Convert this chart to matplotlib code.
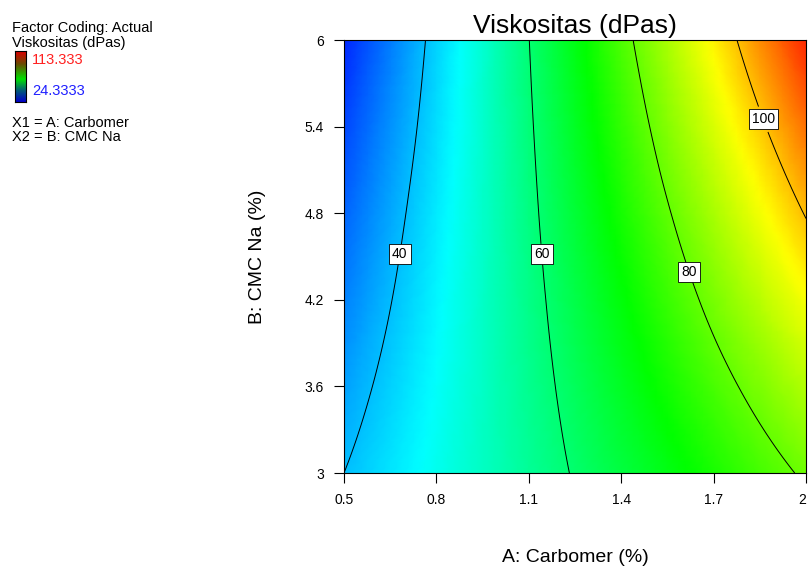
import numpy as np
import matplotlib
matplotlib.use("Agg")
import matplotlib.pyplot as plt
import matplotlib.tri as mtri
from matplotlib.colors import LinearSegmentedColormap

plt.rcParams['font.family'] = ['Liberation Sans', 'DejaVu Sans']

# factor levels (grid points) and response
carbomer = [0.5, 0.8, 1.1, 1.4, 1.7, 2.0]
cmc_na = [3.0, 3.6, 4.2, 4.8, 5.4, 6.0]
# rows = CMC Na, cols = Carbomer
viskositas = [
    [40.0, 48.2, 56.4, 64.6, 72.8, 81.0],
    [36.9, 47.0, 57.1, 67.2, 77.3, 87.4],
    [33.7, 45.8, 57.8, 69.8, 81.9, 93.9],
    [30.6, 44.6, 58.5, 72.5, 86.4, 100.4],
    [27.5, 43.3, 59.2, 75.1, 91.0, 106.9],
    [24.3, 42.1, 59.9, 77.7, 95.5, 113.3],
]
levels = [40, 60, 80, 100]
label_pos = [(0.666, 4.52), (1.14, 4.52), (1.63, 4.40), (1.873, 5.46)]
z_min, z_max = 24.3333, 113.333

cmap = LinearSegmentedColormap.from_list(
    "de", [(0.0, "#0028ff"), (0.25, "#00ffff"), (0.52, "#00ff00"),
           (0.79, "#ffff00"), (1.0, "#ff2800")])

fig = plt.figure(figsize=(8.08, 5.67), dpi=100)
ax = fig.add_axes([344 / 808, 1 - 473 / 567, 462 / 808, 433 / 567])

X, Y = np.meshgrid(carbomer, cmc_na)
Z = np.array(viskositas).ravel()
tri = mtri.Triangulation(X.ravel(), Y.ravel())
interp = mtri.CubicTriInterpolator(tri, Z, kind="min_E")
refiner = mtri.UniformTriRefiner(tri)
tri_f, z_f = refiner.refine_field(Z, interp, subdiv=4)

ax.tripcolor(tri_f, z_f, shading="gouraud", cmap=cmap, vmin=z_min, vmax=z_max)
cs = ax.tricontour(tri_f, z_f, levels=levels, colors="k", linewidths=0.7)
labels = ax.clabel(cs, manual=label_pos, fmt="%d", fontsize=10, inline=True,
                   inline_spacing=2)
for t in labels:
    t.set_rotation(0)
    t.set_bbox(dict(boxstyle="square,pad=0.22", fc="white", ec="black", lw=0.6))

ax.set_xlim(0.5, 2.0)
ax.set_ylim(3, 6)
ax.set_xticks(carbomer)
ax.set_xticklabels(["0.5", "0.8", "1.1", "1.4", "1.7", "2"])
ax.get_xticklabels()[-1].set_ha("right")
ax.set_yticks(cmc_na)
ax.set_yticklabels(["3", "3.6", "4.2", "4.8", "5.4", "6"])
ax.tick_params(direction="out", length=7.5, width=0.8, labelsize=10, pad=7)
for s in ax.spines.values():
    s.set_linewidth(0.8)

ax.set_title("Viskositas (dPas)", fontsize=19, pad=5)
ax.set_xlabel("A: Carbomer (%)", fontsize=14, va="center")
ax.xaxis.set_label_coords(0.5, -(557 - 473) / 433)
ax.set_ylabel("B: CMC Na (%)", fontsize=14, va="center")
ax.yaxis.set_label_coords(-(344 - 258) / 462, 0.5)

# legend block at top left
fs = 10.5
fig.text(12 / 808, 1 - 28 / 567, "Factor Coding: Actual", fontsize=fs, va="center")
fig.text(12 / 808, 1 - 43 / 567, "Viskositas (dPas)", fontsize=fs, va="center")
cax = fig.add_axes([15 / 808, 1 - 102 / 567, 11 / 808, 51 / 567])
leg_cmap = LinearSegmentedColormap.from_list(
    "leg", [(0.0, "#0000c8"), (0.22, "#005a78"), (0.45, "#00e000"),
            (0.75, "#6a4a00"), (1.0, "#dc0000")])
cax.imshow(np.linspace(0, 1, 100)[:, None], aspect="auto", origin="lower",
           cmap=leg_cmap)
cax.set_xticks([])
cax.set_yticks([])
fig.text(32 / 808, 1 - 60 / 567, "113.333", fontsize=fs, va="center", color="#ff2020")
fig.text(32 / 808, 1 - 91 / 567, "24.3333", fontsize=fs, va="center", color="#2020ff")
fig.text(12 / 808, 1 - 123 / 567, "X1 = A: Carbomer", fontsize=fs, va="center")
fig.text(12 / 808, 1 - 137 / 567, "X2 = B: CMC Na", fontsize=fs, va="center")

fig.savefig("out.png", dpi=100)
